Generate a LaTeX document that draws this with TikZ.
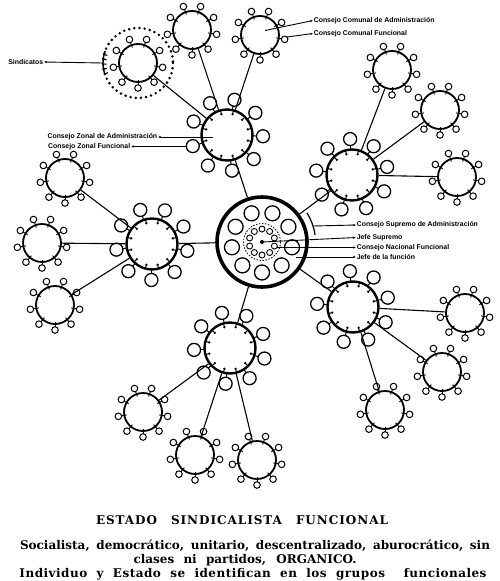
\documentclass[tikz,border=0pt]{standalone}
\usepackage{fontspec}
\newfontfamily\labelsans{Liberation Sans}
\newfontfamily\piefont{DejaVu Serif}
\usepackage{tikz}
\usetikzlibrary{arrows.meta}
\usetikzlibrary{calc}

\tikzset{
	comunal/.style={circle,draw,line width=1.8pt,minimum size=38pt,inner sep=0pt},
	zonal/.style={circle,draw,line width=2.4pt,minimum size=51pt,inner sep=0pt},
	supremo/.style={circle,draw,line width=3.6pt,minimum size=90pt,inner sep=0pt},
	rotulo/.style={font=\labelsans\bfseries\fontsize{6.9}{7}\selectfont,inner sep=0.6pt},
	flecha/.style={line width=0.9pt,-{Latex[length=2.6pt,width=2.4pt]}},
	enlace/.style={line width=1.1pt},
	texto/.style={font=\piefont\bfseries\fontsize{12}{14}\selectfont,inner sep=0pt}
}

% small rings round a comunal circle
\newcommand{\anillocomunal}[2]{%
	\foreach \a in {0,40,...,320}{
		\draw[line width=0.9pt] ([shift={(#2+\a:16.5)}]#1.center) -- ([shift={(#2+\a:21.7)}]#1.center);
		\draw[line width=1pt] ([shift={(#2+\a:25)}]#1.center) circle[radius=3.3];
	}
}
% rings and ticks of a zonal circle
\newcommand{\anillozonal}[2]{%
	\foreach \a in {0,40,...,320}{
		\draw[line width=1pt] ([shift={(#2+\a:25.5)}]#1.center) -- ([shift={(#2+\a:29.5)}]#1.center);
		\draw[line width=1.3pt] ([shift={(#2+\a:36)}]#1.center) circle[radius=6.5];
	}
	\foreach \a in {15,45,...,345}{
		\draw[line width=1pt] ([shift={(\a:25.5)}]#1.center) -- ([shift={(\a:21.5)}]#1.center);
		\fill ([shift={(\a:21.5)}]#1.center) circle[radius=1.3];
	}
}

\begin{document}
\begin{tikzpicture}[x=1pt,y=-1pt]
	\useasboundingbox (0,0) rectangle (500,581);

	% central circle
	\node[supremo] (nac) at (262,242) {};
	\foreach \a in {-150,-110,...,170}
		\draw[line width=1.3pt] ([shift={(\a:30.5)}]nac.center) circle[radius=7.5];
	\draw[line width=0.8pt,dash pattern=on 1.5pt off 1.5pt] (nac.center) circle[radius=18.5];
	\foreach \a in {18,54,...,342}
		\draw[line width=0.9pt] ([shift={(\a:13)}]nac.center) circle[radius=3];
	\fill (nac.center) circle[radius=2];

	% zonal circles
	\node[zonal] (z1) at (227,135) {};
	\node[zonal] (z2) at (352,175) {};
	\node[zonal] (z3) at (152,244) {};
	\node[zonal] (z4) at (353,307) {};
	\node[zonal] (z5) at (230,348) {};
	\anillozonal{z1}{2}
	\anillozonal{z2}{27}
	\anillozonal{z3}{11}
	\anillozonal{z4}{25}
	\anillozonal{z5}{17}

	% comunal circles
	\node[comunal] (csind) at (138,63) {};
	\node[comunal] (c1n) at (192,30) {};
	\node[comunal] (c1o) at (260,35) {};
	\node[comunal] (c2d) at (392,70) {};
	\node[comunal] (c2e) at (440,110) {};
	\node[comunal] (c2f) at (457,177) {};
	\node[comunal] (c3a) at (65,178) {};
	\node[comunal] (c3b) at (42,243) {};
	\node[comunal] (c3c) at (55,305) {};
	\node[comunal] (c4g) at (465,313) {};
	\node[comunal] (c4h) at (442,372) {};
	\node[comunal] (c4i) at (385,410) {};
	\node[comunal] (c5j) at (143,412) {};
	\node[comunal] (c5k) at (195,455) {};
	\node[comunal] (c5l) at (257,460) {};
	\foreach \n in {csind,c1n,c1o,c2d,c2e,c2f,c3a,c3b,c3c,c4g,c4h,c4i,c5j,c5k,c5l}{
		\anillocomunal{\n}{10}
	}

	% sindicatos ring
	\draw[line width=2.8pt,dash pattern=on 0pt off 5.2pt,line cap=round] (csind.center) circle[radius=35];
	\draw[line width=1.4pt] ([shift={(160:35)}]csind.center) arc[start angle=160,end angle=200,radius=35];
	\foreach \a in {162,170,...,198}
		\draw[line width=1.1pt] ([shift={(\a:35)}]csind.center) -- ([shift={(\a:31.5)}]csind.center);

	% links
	\draw[enlace] (nac) -- (z1);
	\draw[enlace] (nac) -- (z2);
	\draw[enlace] (nac) -- (z3);
	\draw[enlace] (nac) -- (z4);
	\draw[enlace] (nac) -- (z5);
	\draw[enlace] (z1) -- (csind);
	\draw[enlace] (z1) -- (c1n);
	\draw[enlace] (z1) -- (c1o);
	\draw[enlace] (z2) -- (c2d);
	\draw[enlace] (z2) -- (c2e);
	\draw[enlace] (z2) -- (c2f);
	\draw[enlace] (z3) -- (c3a);
	\draw[enlace] (z3) -- (c3b);
	\draw[enlace] (z3) -- (c3c);
	\draw[enlace] (z4) -- (c4g);
	\draw[enlace] (z4) -- (c4h);
	\draw[enlace] (z4) -- (c4i);
	\draw[enlace] (z5) -- (c5j);
	\draw[enlace] (z5) -- (c5k);
	\draw[enlace] (z5) -- (c5l);

	% labels
	\node[rotulo,anchor=east] (sind) at (44,62) {Sindicatos};
	\node[rotulo,anchor=east] (zadm) at (158,137) {Consejo Zonal de Administración};
	\node[rotulo,anchor=east] (zfun) at (131,146.5) {Consejo Zonal Funcional};
	\node[rotulo,anchor=west] (cadm) at (313,20.5) {Consejo Comunal de Administración};
	\node[rotulo,anchor=west] (cfun) at (313,33.5) {Consejo Comunal Funcional};
	\node[rotulo,anchor=west] (supadm) at (356,225) {Consejo Supremo de Administración};
	\node[rotulo,anchor=west] (jefesup) at (356,237.5) {Jefe Supremo};
	\node[rotulo,anchor=west] (nacfun) at (356,247.5) {Consejo Nacional Funcional};
	\node[rotulo,anchor=west] (jefefun) at (356,257) {Jefe de la función};

	\coordinate (sindpt) at ([shift={(180:35)}]csind.center);
	\coordinate (zadmpt) at (213,137);
	\coordinate (zfunpt) at (186,146.5);
	\coordinate (cadmpt) at (265,30.5);
	\coordinate (cfunpt) at (287,37);
	\coordinate (supadmpt) at ([shift={(-17.4:53.5)}]nac.center);
	\coordinate (nacfunpt) at (277,247.5);
	\coordinate (jefefunpt) at (296,257);

	\draw[line width=1.2pt] ([shift={(-33:53.5)}]nac.center) arc[start angle=-33,end angle=-7.5,radius=53.5]; %bracket
	\draw[flecha] (sindpt) -- (sind.east);
	\draw[flecha] (zadmpt) -- (zadm.east);
	\draw[flecha] (zfunpt) -- (zfun.east);
	\draw[flecha] (cadmpt) -- (cadm.west);
	\draw[flecha] (cfunpt) -- (cfun.west);
	\draw[flecha] (supadmpt) -- (supadm.west);
	\draw[flecha] (nac.center) -- (jefesup.west);
	\draw[flecha] (nacfunpt) -- (nacfun.west);
	\draw[flecha] (jefefunpt) -- (jefefun.west);

	% caption
	\node[texto] (titulo) at (242,520) {\addfontfeature{LetterSpace=8}\makebox[292pt][s]{ESTADO SINDICALISTA FUNCIONAL}};
	\node[texto] (linea1) at (255,546) {\makebox[470pt][s]{Socialista, democrático, unitario, descentralizado, aburocrático, sin}};
	\node[texto] (linea2) at (245,560) {\makebox[223pt][s]{clases ni partidos, ORGANICO.}};
	\node[texto] (linea3) at (253,574) {\addfontfeature{LetterSpace=4}\makebox[467pt][s]{Individuo y Estado se identifican en los grupos\ \ funcionales}};
\end{tikzpicture}
\end{document}
